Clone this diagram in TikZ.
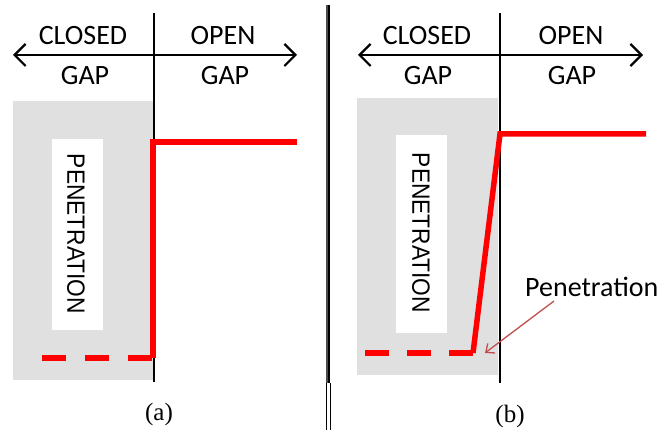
\documentclass[tikz,border=0pt]{standalone}
\usepackage{fontspec}
\setmainfont{Liberation Serif}
\newfontfamily\labelfont{Carlito}
\newfontfamily\boxfont{Liberation Sans}
\usepackage{tikz}
\usetikzlibrary{
  arrows.meta,
  calc,
  positioning,
}
\definecolor{contact}{RGB}{255, 0, 0}
\definecolor{note}{RGB}{192, 80, 77}
\definecolor{gapgray}{RGB}{224, 224, 224}
\tikzstyle{gaparrow} = [
  {Straight Barb[length=11pt,width=22pt,line width=2.2pt]}-{Straight Barb[length=11pt,width=22pt,line width=2.2pt]},
  line width=2pt,
  black,
]
\tikzstyle{gaplabel} = [
  font=\labelfont\fontsize{28}{30}\selectfont,
  inner sep=0pt,
]
\tikzstyle{law} = [
  line width=5.5pt,
  contact,
  line join=miter,
]
\tikzstyle{lawdash} = [
  line width=5.5pt,
  contact,
]
\tikzstyle{penbox} = [
  fill=white,
  rotate=-90,
  font=\boxfont\fontsize{25}{27}\selectfont,
  inner sep=0pt,
]

\begin{document}
\begin{tikzpicture}[x=1pt, y=1pt]

        \useasboundingbox (0,0) rectangle (663,430);

        \fill [gapgray] (13,50) rectangle (153,329);

        \fill [gapgray] (357,55) rectangle (498,332);

        \fill [white] (52,100) rectangle (103,291);

        \fill [white] (396,97) rectangle (447,295);

        \node [penbox] (penA) at (76,196) {\scalebox{0.91}[1]{PENETRATION}};
        \node [penbox] (penB) at (421,197) {\scalebox{0.91}[1]{PENETRATION}};

        \draw [line width=1.2pt] (154,417) -- (154,48);
        \draw [line width=1.2pt] (500,417) -- (500,47);

        \coordinate (leftA) at (13,375);
        \coordinate (rightA) at (297,375);
        \coordinate (leftB) at (358,375);
        \coordinate (rightB) at (643,375);

        \draw [gaparrow] (leftA) -- (rightA);
        \draw [gaparrow] (leftB) -- (rightB);

        \node [gaplabel] (closedA) at (83,394) {CLOSED};
        \node [gaplabel] (openA) at (223,394) {OPEN};
        \node [gaplabel] (gapLA) at (85,354) {GAP};
        \node [gaplabel] (gapRA) at (225,354) {GAP};

        \node [gaplabel] (closedB) at (427,394) {CLOSED};
        \node [gaplabel] (openB) at (571,394) {OPEN};
        \node [gaplabel] (gapLB) at (428,354) {GAP};
        \node [gaplabel] (gapRB) at (572,354) {GAP};

        \draw [law] (297,288) -- (153,288) -- (153,72);
        \draw [lawdash, dash pattern=on 24pt off 19pt] (42,72) -- (153,72);

        \draw [law] (646,296) -- (500,296) -- (473,77);
        \draw [lawdash, dash pattern=on 23.5pt off 18.5pt] (365,77) -- (473,77);

        \node [gaplabel, anchor=base west] (pen) at (525,133) {Penetration};
        \coordinate (pentip) at (485,77);
        \draw [note, line width=1.3pt, -{Straight Barb[length=7pt,width=12pt]}]
              ([xshift=29pt,yshift=-4pt]pen.base west) -- (pentip);

        \draw [line width=1.5pt, black!70] (327,425) -- (327,47);
        \draw [line width=1.5pt] (329,425) -- (329,47);
        \draw [line width=1pt] (326,47) -- (326,0);
        \draw [line width=1pt] (330,47) -- (330,0);

        \node [font=\fontsize{25}{27}\selectfont] (capA) at (159,16) {(a)};
        \node [font=\fontsize{25}{27}\selectfont] (capB) at (510,14) {(b)};
      \end{tikzpicture}
\end{document}
